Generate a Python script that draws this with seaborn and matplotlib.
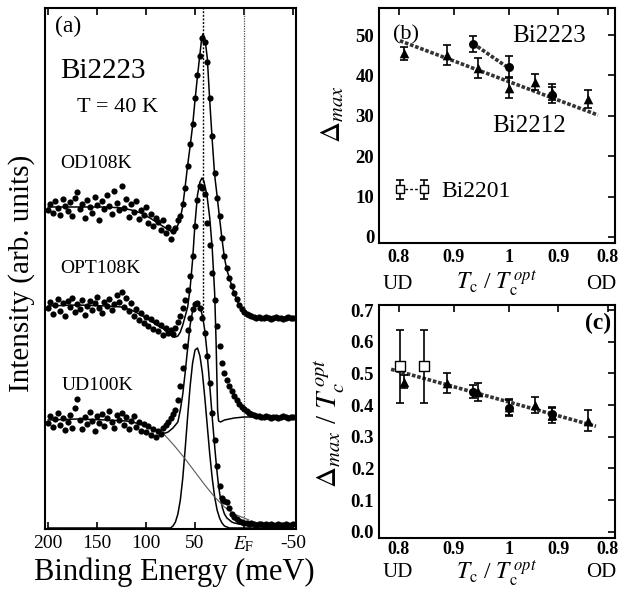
import matplotlib
matplotlib.use("Agg")
import matplotlib.pyplot as plt
import seaborn as sns

# ---------------------------------------------------------------- panel (a)
# ARPES spectra of Bi2223 at T = 40 K, binding energy in meV
energy = [200, 197.5, 195, 192.5, 190, 187.5, 185, 182.5, 180, 177.5,
          175, 172.5, 170, 167.5, 165, 162.5, 160, 157.5, 155, 152.5,
          150, 147.5, 145, 142.5, 140, 137.5, 135, 132.5, 130, 127.5,
          125, 122.5, 120, 117.5, 115, 112.5, 110, 107.5, 105, 102.5,
          100, 97.5, 95, 92.5, 90, 87.5, 85, 82.5, 80, 77.5,
          75, 72.5, 70, 67.5, 65, 62.5, 60, 57.5, 55, 52.5,
          50, 47.5, 45, 42.5, 40, 37.5, 35, 32.5, 30, 27.5,
          25, 22.5, 20, 17.5, 15, 12.5, 10, 7.5, 5, 2.5,
          0, -2.5, -5, -7.5, -10, -12.5, -15, -17.5, -20, -22.5,
          -25, -27.5, -30, -32.5, -35, -37.5, -40, -42.5, -45, -47.5,
          -50]

od_data = [3.18, 3.24, 3.15, 3.27, 3.20, 3.13, 3.29, 3.22, 3.17, 3.26,
           3.12, 3.30, 3.36, 3.19, 3.24, 3.10, 3.28, 3.21, 3.15, 3.31,
           3.23, 3.08, 3.27, 3.19, 3.33, 3.22, 3.14, 3.37, 3.25, 3.18,
           3.42, 3.20, 3.29, 3.11, 3.24, 3.16, 3.27, 3.09, 3.18, 3.13,
           3.21, 3.05, 3.14, 3.02, 3.10, 3.06, 2.98, 3.08, 2.95, 3.01,
           2.89, 2.97, 3.00, 3.08, 3.12, 3.24, 3.40, 3.62, 3.84, 4.04,
           4.30, 4.53, 4.72, 4.90, 4.86, 4.66, 4.30, 3.92, 3.55, 3.30,
           3.12, 2.90, 2.72, 2.60, 2.50, 2.42, 2.35, 2.29, 2.23, 2.19,
           2.16, 2.14, 2.13, 2.12, 2.11, 2.10, 2.11, 2.10, 2.10, 2.11,
           2.10, 2.09, 2.10, 2.11, 2.10, 2.10, 2.09, 2.10, 2.11, 2.10,
           2.10]

opt_data = [2.20, 2.26, 2.14, 2.23, 2.29, 2.17, 2.25, 2.12, 2.27, 2.21,
            2.30, 2.16, 2.24, 2.19, 2.28, 2.13, 2.22, 2.27, 2.18, 2.25,
            2.31, 2.20, 2.15, 2.26, 2.22, 2.29, 2.18, 2.24, 2.33, 2.26,
            2.36, 2.21, 2.30, 2.17, 2.25, 2.12, 2.19, 2.08, 2.15, 2.05,
            2.11, 2.02, 2.09, 1.99, 2.06, 1.97, 2.03, 1.93, 2.00, 1.95,
            1.98, 1.94, 2.00, 2.06, 2.12, 2.20, 2.28, 2.38, 2.52, 2.72,
            3.02, 3.28, 3.42, 3.40, 3.34, 3.05, 2.83, 2.55, 2.28, 2.02,
            1.82, 1.65, 1.55, 1.48, 1.42, 1.37, 1.32, 1.28, 1.24, 1.21,
            1.19, 1.17, 1.15, 1.14, 1.13, 1.12, 1.12, 1.11, 1.11, 1.12,
            1.11, 1.10, 1.11, 1.11, 1.10, 1.11, 1.12, 1.11, 1.10, 1.11,
            1.11]

ud_data = [1.05, 1.12, 1.01, 1.09, 1.15, 1.03, 1.10, 0.98, 1.06, 1.13,
           1.00, 1.20, 1.29, 1.08, 0.99, 1.11, 1.04, 1.16, 1.07, 0.97,
           1.12, 1.05, 1.14, 1.02, 1.10, 1.17, 1.06, 1.00, 1.13, 1.08,
           1.15, 1.03, 1.11, 0.99, 1.07, 1.12, 1.01, 1.06, 0.97, 1.04,
           0.96, 1.02, 0.93, 0.99, 0.91, 0.97, 0.94, 1.00, 1.03, 1.06,
           1.10, 1.14, 1.18, 1.28, 1.42, 1.60, 1.82, 1.98, 2.10, 2.19,
           2.24, 2.25, 2.20, 2.10, 1.95, 1.72, 1.45, 1.15, 0.88, 0.62,
           0.42, 0.30, 0.27, 0.26, 0.20, 0.14, 0.11, 0.09, 0.07, 0.06,
           0.05, 0.05, 0.04, 0.05, 0.04, 0.03, 0.04, 0.04, 0.03, 0.04,
           0.03, 0.04, 0.03, 0.03, 0.04, 0.03, 0.03, 0.04, 0.03, 0.03,
           0.04]

# fitted curves
od_fit_e = [200, 180, 160, 140, 125, 115, 105, 96, 88, 80,
            75, 72, 70, 67.5, 65, 62.5, 60, 57.5, 55, 52.5,
            50, 47.5, 45, 43.5, 42, 40.5, 39, 37.5, 35, 32.5,
            30, 27.5, 25, 22.5, 20, 17.5, 15, 12.5, 10, 7.5,
            5, 2.5, 0, -5, -10, -20, -50]
od_fit_i = [3.21, 3.21, 3.21, 3.21, 3.20, 3.18, 3.15, 3.10, 3.05, 3.00,
            2.97, 2.96, 2.97, 3.03, 3.10, 3.22, 3.42, 3.63, 3.82, 4.02,
            4.28, 4.52, 4.74, 4.87, 4.94, 4.91, 4.82, 4.70, 4.27, 3.88,
            3.53, 3.32, 3.10, 2.89, 2.70, 2.58, 2.50, 2.42, 2.35, 2.28,
            2.23, 2.19, 2.16, 2.13, 2.11, 2.10, 2.10]

opt_fit_e = [200, 170, 140, 125, 115, 105, 95, 87.5, 82, 77.5,
             75, 72.5, 70, 67.5, 65, 62.5, 60, 57.5, 55, 52.5,
             50, 47.5, 45, 43, 41, 39, 37.5, 35, 32.5, 30,
             28.5, 27.5, 27, 26, 24, 20, 10, 0, -50]
opt_fit_i = [2.22, 2.23, 2.22, 2.21, 2.18, 2.13, 2.07, 2.02, 1.99, 1.95,
             1.93, 1.91, 1.91, 1.92, 1.96, 2.03, 2.12, 2.21, 2.40, 2.68,
             3.05, 3.33, 3.46, 3.50, 3.47, 3.38, 3.30, 3.10, 2.80, 2.35,
             1.85, 1.40, 1.18, 1.07, 1.06, 1.08, 1.10, 1.11, 1.11]

ud_fit_e = [200, 170, 140, 120, 110, 100, 92.5, 87.5, 82.5, 80,
            77.5, 75, 72.5, 70, 67.5, 65, 62.5, 60, 57.5, 55,
            52.5, 50, 48, 46, 44, 42, 40, 38, 36, 34,
            32, 30, 28, 26, 24, 22, 20, 17.5, 15, 12.5,
            10, 5, 0, -10, -50]
ud_fit_i = [1.08, 1.09, 1.08, 1.07, 1.05, 1.02, 0.99, 0.97, 0.95, 0.95,
            0.96, 0.98, 1.00, 1.03, 1.06, 1.18, 1.34, 1.56, 1.80, 2.03,
            2.17, 2.23, 2.25, 2.23, 2.18, 2.10, 1.97, 1.78, 1.55, 1.30,
            1.05, 0.82, 0.60, 0.42, 0.29, 0.20, 0.14, 0.10, 0.08, 0.06,
            0.05, 0.04, 0.03, 0.03, 0.03]

# quasiparticle peak and background of the UD100K fit
peak_e = [200, 80, 75, 72.5, 70, 67.5, 65, 62.5, 60, 57.5,
          55, 52.5, 50, 47.5, 45, 42.5, 40, 37.5, 35, 32.5,
          30, 27.5, 25, 22.5, 20, 17.5, 15, -50]
peak_i = [0, 0, 0, 0.02, 0.06, 0.14, 0.28, 0.50, 0.80, 1.12,
          1.42, 1.65, 1.78, 1.80, 1.72, 1.55, 1.30, 1.02, 0.74, 0.50,
          0.31, 0.18, 0.10, 0.05, 0.02, 0.01, 0, 0]
bg_e = [85, 80, 70, 60, 50, 40, 30, 20, 10, 0, -5]
bg_i = [0.97, 0.92, 0.81, 0.69, 0.56, 0.43, 0.31, 0.21, 0.14, 0.10, 0.08]

peak_position = 41.5     # meV, dotted guide
a_ticks = [200, 150, 100, 50, 0, -50]
a_ticklabels = ["200", "150", "100", "50", r"$E_{\rm F}$", "-50"]

# ------------------------------------------------------------ panels (b,c)
ratio_2212 = [0.81, 0.887, 0.944, 1.0, 0.948, 0.913, 0.84]
side_2212 = ["UD", "UD", "UD", "OPT", "OD", "OD", "OD"]
gap_2212 = [45.5, 45.0, 41.8, 36.8, 38.4, 36.0, 34.1]
gap_2212_err = [1.6, 2.5, 2.5, 2.5, 1.9, 2.0, 2.2]
norm_2212 = [0.474, 0.469, 0.442, 0.395, 0.400, 0.368, 0.350]
norm_2212_err = [0.020, 0.032, 0.028, 0.025, 0.025, 0.025, 0.033]

ratio_2223 = [0.935, 1.0, 0.913]
side_2223 = ["UD", "OPT", "OD"]
gap_2223 = [47.8, 42.2, 35.1]
gap_2223_err = [1.9, 2.5, 2.0]
norm_2223 = [0.442, 0.390, 0.372]
norm_2223_err = [0.020, 0.025, 0.020]

ratio_2201 = [0.803, 0.845]
side_2201 = ["UD", "UD"]
gap_2201 = [11.8, 11.8]
gap_2201_err = [2.3, 2.3]
norm_2201 = [0.523, 0.523]
norm_2201_err = [0.115, 0.115]

# linear trends
trend_2212_ratio = [0.802, 0.82]
trend_2212_side = ["UD", "OD"]
trend_2212_gap = [48.6, 30.2]
trend_2223_ratio = [0.935, 1.0]
trend_2223_side = ["UD", "OPT"]
trend_2223_gap = [47.9, 41.8]
trend_norm_ratio = [0.786, 0.824]
trend_norm_side = ["UD", "OD"]
trend_norm_val = [0.513, 0.333]

tc_ticks = [0.8, 0.9, 1.0, 0.9, 0.8]
tc_tick_side = ["UD", "UD", "OPT", "OD", "OD"]
tc_ticklabels = ["0.8", "0.9", "1", "0.9", "0.8"]


def doping_axis(ratios, sides):
    """Place Tc/Tc_opt on a doping-like axis: UD left of 1, OD right of 1."""
    out = []
    for r, s in zip(ratios, sides):
        out.append(r if s != "OD" else 1.0 + 0.9 * (1.0 - r))
    return out


# ------------------------------------------------------------------ styling
sns.set_theme(style="white")
plt.rcParams.update({
    "font.family": ["Liberation Serif", "DejaVu Serif"],
    "mathtext.fontset": "stix",
    "axes.linewidth": 1.5,
    "axes.edgecolor": "black",
    "text.color": "black",
    "axes.labelcolor": "black",
    "xtick.color": "black",
    "ytick.color": "black",
})

fig = plt.figure(figsize=(6.21, 5.91), dpi=100)
ax_a = fig.add_axes([0.0725, 0.1049, 0.4042, 0.8816])
ax_b = fig.add_axes([0.6103, 0.5888, 0.3800, 0.3976])
ax_c = fig.add_axes([0.6103, 0.0897, 0.3800, 0.3942])

# ---------------------------------------------------------------- panel (a)
ax = ax_a
line_kw = dict(ax=ax, color="black", linewidth=1.1, sort=False, estimator=None)
sns.lineplot(x=od_fit_e, y=od_fit_i, **line_kw)
sns.lineplot(x=opt_fit_e, y=opt_fit_i, **line_kw)
sns.lineplot(x=ud_fit_e, y=ud_fit_i, **line_kw)
sns.lineplot(x=peak_e, y=peak_i, **line_kw)
sns.lineplot(x=bg_e, y=bg_i, ax=ax, color="0.35", linewidth=0.8,
             sort=False, estimator=None)
for series in (od_data, opt_data, ud_data):
    sns.scatterplot(x=energy, y=series, ax=ax, color="black", s=20,
                    linewidth=0, zorder=3)

ax.axvline(0, color="0.3", linewidth=0.9, linestyle=(0, (1, 1)), zorder=1)
ax.plot([peak_position, peak_position], [2.12, 5.25], color="black",
        linewidth=1.0, linestyle=(0, (1.4, 1.2)), zorder=1)

ax.set_xlim(203, -53)
ax.set_ylim(-0.01, 5.2)
ax.set_xticks(a_ticks)
ax.set_xticklabels(a_ticklabels, fontsize=14)
ax.set_yticks([])
ax.tick_params(axis="x", direction="in", length=5, width=1.2,
               top=True, bottom=True, pad=4)
ax.set_xlabel("")
ax.set_ylabel("")
ax.text(0.514, -0.083, "Binding Energy (meV)", transform=ax.transAxes,
        ha="center", va="center", fontsize=22)
ax.text(-0.092, 0.49, "Intensity (arb. units)", transform=ax.transAxes,
        ha="center", va="center", rotation=90, fontsize=21)

ax.text(179.6, 5.02, "(a)", ha="center", va="center", fontsize=17)
ax.text(187.8, 4.50, "Bi2223", ha="left", va="baseline", fontsize=21)
ax.text(170.4, 4.16, "T = 40 K", ha="left", va="baseline", fontsize=16)
ax.text(187.8, 3.60, "OD108K", ha="left", va="baseline", fontsize=14)
ax.text(187.8, 2.55, "OPT108K", ha="left", va="baseline", fontsize=14)
ax.text(185.7, 1.38, "UD100K", ha="left", va="baseline", fontsize=14)


# ------------------------------------------------------------ panels (b, c)
def style_doping_axes(ax, ylim, yticks, yticklabels, ud_y, xlab_y, tick_pad):
    ax.set_xlim(0.764, 1.193)
    ax.set_ylim(*ylim)
    ax.set_xticks(doping_axis(tc_ticks, tc_tick_side))
    ax.set_xticklabels(tc_ticklabels, fontsize=13, fontweight="bold")
    ax.set_yticks(yticks)
    ax.set_yticklabels(yticklabels, fontsize=13.5, fontweight="bold")
    ax.tick_params(direction="in", length=5, width=1.2, top=True, right=True)
    ax.tick_params(axis="x", pad=tick_pad)
    ax.set_xlabel("")
    ax.set_ylabel("")
    ax.text(0.08, ud_y, "UD", transform=ax.transAxes, ha="center",
            va="center", fontsize=15)
    ax.text(0.94, ud_y, "OD", transform=ax.transAxes, ha="center",
            va="center", fontsize=15)
    ax.text(0.5, xlab_y, r"$T_{\rm c}$ / $T_{\rm c}^{\,opt}$",
            transform=ax.transAxes, ha="center", va="center", fontsize=17)


def draw_points(ax, ratios, sides, vals, errs, marker, size, face):
    xs = doping_axis(ratios, sides)
    ax.errorbar(xs, vals, yerr=errs, fmt="none", ecolor="black",
                elinewidth=1.2, capsize=3, capthick=1.2, zorder=2)
    sns.scatterplot(x=xs, y=vals, ax=ax, marker=marker, s=size, color=face,
                    edgecolor="black", linewidth=1.0 if face == "white" else 0,
                    zorder=3)


trend_kw = dict(color="0.2", linewidth=2.6, linestyle=(0, (1, 0.5)),
                sort=False, estimator=None)

# (b) gap magnitude
ax = ax_b
sns.lineplot(x=doping_axis(trend_2212_ratio, trend_2212_side),
             y=trend_2212_gap, ax=ax, **trend_kw)
sns.lineplot(x=doping_axis(trend_2223_ratio, trend_2223_side),
             y=trend_2223_gap, ax=ax, **trend_kw)
sns.lineplot(x=doping_axis(ratio_2201, side_2201), y=gap_2201, ax=ax,
             color="black", linewidth=1.0, linestyle=(0, (2, 1.5)),
             sort=False, estimator=None)
draw_points(ax, ratio_2212, side_2212, gap_2212, gap_2212_err, "^", 48, "black")
draw_points(ax, ratio_2223, side_2223, gap_2223, gap_2223_err, "o", 42, "black")
draw_points(ax, ratio_2201, side_2201, gap_2201, gap_2201_err, "s", 28, "white")
style_doping_axes(ax, (-1.5, 56.7), [0, 10, 20, 30, 40, 50],
                  ["0", "10", "20", "30", "40", "50"], -0.178, -0.172, 4)
ax.text(-0.195, 0.55, r"$\Delta_{max}$", transform=ax.transAxes,
        ha="center", va="center", rotation=90, fontsize=21)
ax.text(0.813, 50.0, "(b)", ha="center", va="center", fontsize=16)
ax.text(1.007, 48.3, "Bi2223", ha="left", va="baseline", fontsize=18)
ax.text(0.969, 26.1, "Bi2212", ha="left", va="baseline", fontsize=18)
ax.text(0.878, 10.0, "Bi2201", ha="left", va="baseline", fontsize=17)

# (c) gap normalised by the optimal Tc
ax = ax_c
sns.lineplot(x=doping_axis(trend_norm_ratio, trend_norm_side),
             y=trend_norm_val, ax=ax, **trend_kw)
draw_points(ax, ratio_2212, side_2212, norm_2212, norm_2212_err, "^", 48, "black")
draw_points(ax, ratio_2223, side_2223, norm_2223, norm_2223_err, "o", 42, "black")
draw_points(ax, ratio_2201, side_2201, norm_2201, norm_2201_err, "s", 45, "white")
style_doping_axes(ax, (-0.02, 0.716), [0, 0.1, 0.2, 0.3, 0.4, 0.5, 0.6, 0.7],
                  ["0.0", "0.1", "0.2", "0.3", "0.4", "0.5", "0.6", "0.7"],
                  -0.148, -0.15, 2.5)
ax.text(-0.207, 0.494, r"$\Delta_{max}$ / $T_c^{\,opt}$",
        transform=ax.transAxes, ha="center", va="center", rotation=90,
        fontsize=21)
ax.text(1.162, 0.659, "(c)", ha="center", va="center", fontsize=17,
        fontweight="bold")

fig.savefig("out.png", dpi=100)
